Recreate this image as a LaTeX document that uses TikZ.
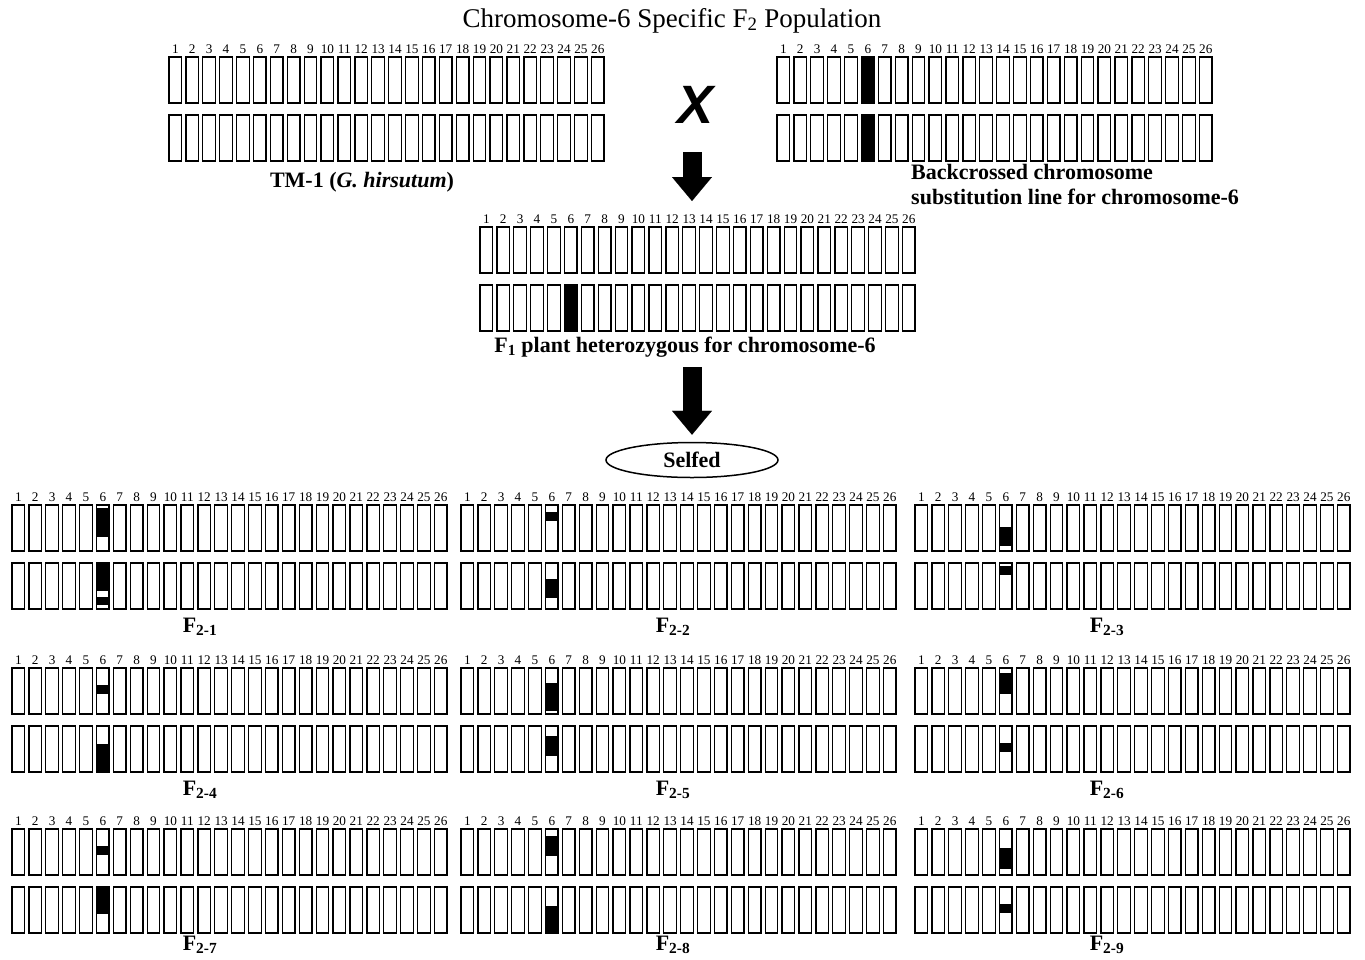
\documentclass[tikz,border=0pt]{standalone}
\usepackage{fontspec}
\setmainfont{Liberation Serif}
\setsansfont{Liberation Sans}
\usetikzlibrary{arrows.meta,shapes.geometric}

% one karyotype: name, left x, top y
\newcommand{\chrset}[3]{%
  \foreach \i in {1,...,26}{
    \pgfmathsetmacro{\cx}{#2+(\i-1)*16.9}
    \node[chrnum] (#1-\i) at (\cx+6.3,#3-3.5) {\i};
    \draw[chrbox] (\cx,#3) rectangle ++(12.6,46);
    \draw[chrbox] (\cx,#3+58) rectangle ++(12.6,46);
  }%
}
% black segment on chromosome 6: left x, top y, row, from, to
\newcommand{\chrband}[5]{%
  \fill[black] (#1+84.5,#2+#3*58+#4*46) rectangle (#1+97.1,#2+#3*58+#5*46);%
}

\begin{document}
\begin{tikzpicture}[x=1pt, y=-1pt,
    chrbox/.style={draw=black, line width=1.3pt, fill=white},
    chrnum/.style={anchor=base, inner sep=0pt, font=\fontsize{13.2}{14}\selectfont},
    lbl/.style={anchor=base, inner sep=0pt, font=\bfseries\fontsize{22}{25}\selectfont},
    blockarrow/.style={line width=19pt, -{Triangle[width=40pt,length=24pt,line width=0.1pt]}},
    crossmark/.style={inner sep=0pt, font=\sffamily\bfseries\itshape\fontsize{54}{54}\selectfont}
  ]
    \useasboundingbox (0,0) rectangle (1365,959);

    % Title
    \node[anchor=base, inner sep=0pt, font=\fontsize{27}{30}\selectfont] (title) at (672,27) {Chromosome-6 Specific F\textsubscript{2} Population};

    % Parents
    \chrset{tm}{169}{57}
    \node[lbl] (tmlab) at (362,187) {TM-1 (\textit{G. hirsutum})};

    \chrset{bc}{777}{57}
    \chrband{777}{57}{0}{0}{1}
    \chrband{777}{57}{1}{0}{1}
    \node[lbl, anchor=north west, align=left] (bclab) at (911,164) {Backcrossed chromosome\\substitution line for chromosome-6};

    \node[crossmark] (cross) at (695,105) {X};

    % F1
    \coordinate (a1top) at (692,152);
    \coordinate (f1tip) at (692,201);
    \draw[blockarrow] (a1top) -- (f1tip);

    \chrset{fone}{480}{227}
    \chrband{480}{227}{1}{0}{1}
    \node[lbl] (f1lab) at (685,352) {F\textsubscript{1} plant heterozygous for chromosome-6};

    % Selfing
    \node[ellipse, draw=black, line width=1.5pt, minimum width=172pt, minimum height=35pt, inner sep=0pt, font=\bfseries\fontsize{22}{25}\selectfont] (selfed) at (692,460) {Selfed};
    \coordinate (a2top) at (692,367);
    \draw[blockarrow] (a2top) -- ([yshift=7pt]selfed.north);

    % F2 plants, row 1
    \chrset{ftwoa}{12}{505}
    \chrband{12}{505}{0}{0.07}{0.69}
    \chrband{12}{505}{1}{0}{0.6}
    \chrband{12}{505}{1}{0.73}{0.92}
    \node[lbl] (f2a) at (200,632) {F\textsubscript{2-1}};

    \chrset{ftwob}{461}{505}
    \chrband{461}{505}{0}{0.15}{0.34}
    \chrband{461}{505}{1}{0.34}{0.76}
    \node[lbl] (f2b) at (673,632) {F\textsubscript{2-2}};

    \chrset{ftwoc}{915}{505}
    \chrband{915}{505}{0}{0.48}{0.9}
    \chrband{915}{505}{1}{0.07}{0.27}
    \node[lbl] (f2c) at (1107,632) {F\textsubscript{2-3}};

    % row 2
    \chrset{ftwod}{12}{668}
    \chrband{12}{668}{0}{0.37}{0.57}
    \chrband{12}{668}{1}{0.4}{1}
    \node[lbl] (f2d) at (200,795) {F\textsubscript{2-4}};

    \chrset{ftwoe}{461}{668}
    \chrband{461}{668}{0}{0.32}{0.93}
    \chrband{461}{668}{1}{0.22}{0.66}
    \node[lbl] (f2e) at (673,795) {F\textsubscript{2-5}};

    \chrset{ftwof}{915}{668}
    \chrband{915}{668}{0}{0.1}{0.56}
    \chrband{915}{668}{1}{0.36}{0.56}
    \node[lbl] (f2f) at (1107,795) {F\textsubscript{2-6}};

    % row 3
    \chrset{ftwog}{12}{829}
    \chrband{12}{829}{0}{0.37}{0.57}
    \chrband{12}{829}{1}{0}{0.59}
    \node[lbl] (f2g) at (200,950) {F\textsubscript{2-7}};

    \chrset{ftwoh}{461}{829}
    \chrband{461}{829}{0}{0.15}{0.59}
    \chrband{461}{829}{1}{0.41}{1}
    \node[lbl] (f2h) at (673,950) {F\textsubscript{2-8}};

    \chrset{ftwoi}{915}{829}
    \chrband{915}{829}{0}{0.41}{0.87}
    \chrband{915}{829}{1}{0.37}{0.56}
    \node[lbl] (f2i) at (1107,950) {F\textsubscript{2-9}};
\end{tikzpicture}
\end{document}
